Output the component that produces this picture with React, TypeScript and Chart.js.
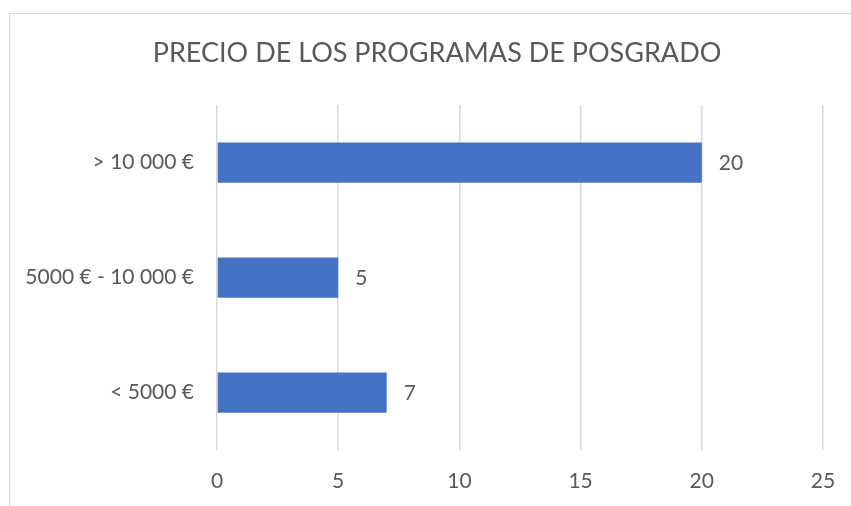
import React, { useEffect, useRef } from "react";
import { Chart, registerables } from "chart.js";

Chart.register(...registerables);

const titleText = "PRECIO DE LOS PROGRAMAS DE POSGRADO";
const categories = ["> 10 000 €", "5000 € - 10 000 €", "< 5000 €"];
const values = [20, 5, 7];
const xMin = 0;
const xMax = 25;
const xStep = 5;

const FONT = "Lato, 'Open Sans', sans-serif";
const TEXT = "#595959";

const titlePlugin = {
  id: "customTitle",
  afterDraw(chart: any) {
    const ctx = chart.ctx;
    ctx.save();
    ctx.fillStyle = TEXT;
    ctx.font = `27px ${FONT}`;
    ctx.textAlign = "center";
    ctx.textBaseline = "middle";
    ctx.fillText(titleText, 437, 53);
    ctx.restore();
  },
};

const labelPlugin = {
  id: "barLabels",
  afterDatasetsDraw(chart: any) {
    const ctx = chart.ctx;
    const meta = chart.getDatasetMeta(0);
    ctx.save();
    ctx.fillStyle = TEXT;
    ctx.font = `21px ${FONT}`;
    ctx.textAlign = "left";
    ctx.textBaseline = "middle";
    meta.data.forEach((bar: any, i: number) => {
      ctx.fillText(String(values[i]), bar.x + 17, bar.y + 1);
    });
    ctx.restore();
  },
};

export default function App() {
  const ref = useRef<HTMLCanvasElement>(null);
  useEffect(() => {
    if (!ref.current) return;
    const chart = new Chart(ref.current, {
      type: "bar",
      data: {
        labels: categories,
        datasets: [
          {
            data: values,
            backgroundColor: "#4472C4",
            borderWidth: 0,
            categoryPercentage: 1,
            barPercentage: 0.35,
          },
        ],
      },
      options: {
        indexAxis: "y",
        animation: false,
        responsive: false,
        maintainAspectRatio: false,
        layout: { padding: { top: 105, right: 28, left: 0, bottom: 0 } },
        plugins: {
          legend: { display: false },
          title: { display: false },
          tooltip: { enabled: false },
        },
        scales: {
          x: {
            min: xMin,
            max: xMax,
            ticks: {
              stepSize: xStep,
              color: TEXT,
              font: { family: FONT, size: 21 },
              padding: 19,
              maxRotation: 0,
            },
            grid: { color: "#d9d9d9", lineWidth: 1.5, drawTicks: false },
            border: { display: false },
            afterFit(scale: any) {
              scale.height = 56;
              scale.paddingLeft = 0;
              scale.paddingRight = 0;
            },
          },
          y: {
            ticks: {
              color: TEXT,
              font: { family: FONT, size: 21 },
              padding: 23,
            },
            grid: { display: false, drawTicks: false },
            border: { display: false },
            afterFit(scale: any) {
              scale.width = 217;
            },
          },
        },
      },
      plugins: [titlePlugin, labelPlugin],
    });
    return () => chart.destroy();
  }, []);

  return (
    <div style={{ position: "fixed", left: 0, top: 0, width: 851, height: 506, background: "#fff", overflow: "hidden" }}>
      <div
        style={{
          position: "absolute",
          left: 9,
          top: 13,
          width: 900,
          height: 600,
          border: "1px solid #d9d9d9",
          boxSizing: "border-box",
        }}
      />
      <canvas ref={ref} width={851} height={506} style={{ position: "absolute", left: 0, top: 0 }} />
    </div>
  );
}
